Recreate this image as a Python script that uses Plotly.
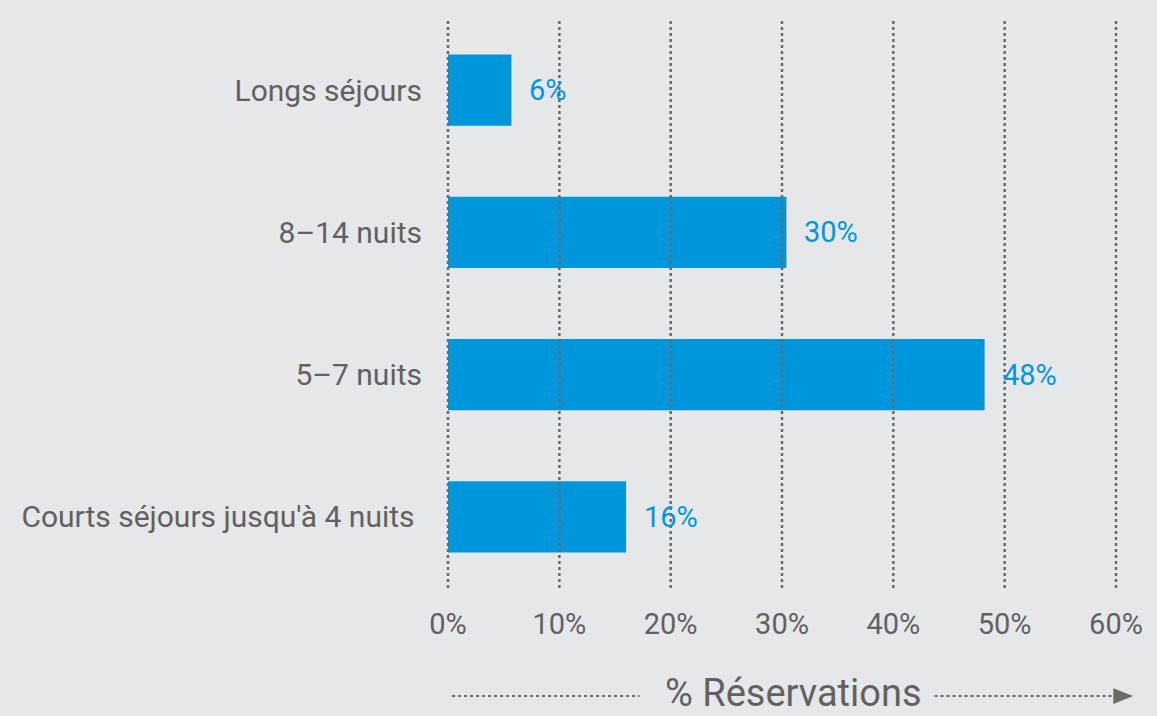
import plotly.graph_objects as go

categories = ["Courts séjours jusqu'à 4 nuits ", "5–7 nuits", "8–14 nuits", "Longs séjours"]
values = [16.0, 48.2, 30.4, 5.7]
labels = ["16%", "48%", "30%", "6%"]
tick_vals = [0, 10, 20, 30, 40, 50, 60]
tick_text = ["0%", "10%", "20%", "30%", "40%", "50%", "60%"]
axis_title = "% Réservations"

BG = "#e6e7e8"
BLUE = "#0096dc"
GREY = "#616161"
GRID = "#6a6a6a"
FONT = "Roboto"

fig = go.Figure(go.Bar(
    y=categories, x=values, orientation="h",
    marker=dict(color=BLUE, line=dict(width=0)),
    hoverinfo="skip",
))

for c, v, t in zip(categories, values, labels):
    fig.add_annotation(x=v, y=c, text=t, showarrow=False, xanchor="left",
                       xshift=16, font=dict(color=BLUE, size=29, family=FONT))

for tv in tick_vals:
    fig.add_shape(type="line", x0=tv, x1=tv, y0=0, y1=1, xref="x", yref="y domain",
                  line=dict(color=GRID, width=2.5, dash="dot"), layer="above")

# axis title with dotted arrow decorations
fig.add_annotation(x=0.5, y=-0.19, xref="x domain", yref="y domain", text=axis_title,
                   showarrow=False, xanchor="center", yanchor="middle", xshift=11, yshift=3,
                   borderpad=0, font=dict(size=38, color=GREY, family=FONT))
fig.add_shape(type="line", x0=0.009, x1=0.288, y0=-0.19, y1=-0.19, xref="x domain", yref="y domain",
              line=dict(color=GRID, width=2, dash="dot"))
fig.add_shape(type="line", x0=0.727, x1=0.995, y0=-0.19, y1=-0.19, xref="x domain", yref="y domain",
              line=dict(color=GRID, width=2, dash="dot"))
fig.add_shape(type="path", xref="x domain", yref="y domain",
              path="M 0.993 -0.176 L 1.0225 -0.19 L 0.993 -0.204 Z",
              fillcolor=GRID, line=dict(width=0))

fig.update_layout(
    width=1157, height=716,
    paper_bgcolor=BG, plot_bgcolor=BG,
    margin=dict(l=446, r=39, t=19, b=128),
    bargap=0.5,
    showlegend=False,
    font=dict(family=FONT, color=GREY, size=29),
    xaxis=dict(range=[-0.18, 60.18], tickvals=tick_vals, ticktext=tick_text, showgrid=False,
               zeroline=False, showline=False, ticks="", ticklabelstandoff=16, automargin=False,
               tickfont=dict(size=29, color=GREY)),
    yaxis=dict(range=[-0.5, 3.5], showgrid=False, zeroline=False, showline=False, ticks="",
               ticklabelstandoff=23, automargin=False, tickfont=dict(size=30, color=GREY)),
)

fig.write_html("out.html", config={"displayModeBar": False},
               post_script="document.body.style.margin='0';document.body.style.background='#e6e7e8';")
